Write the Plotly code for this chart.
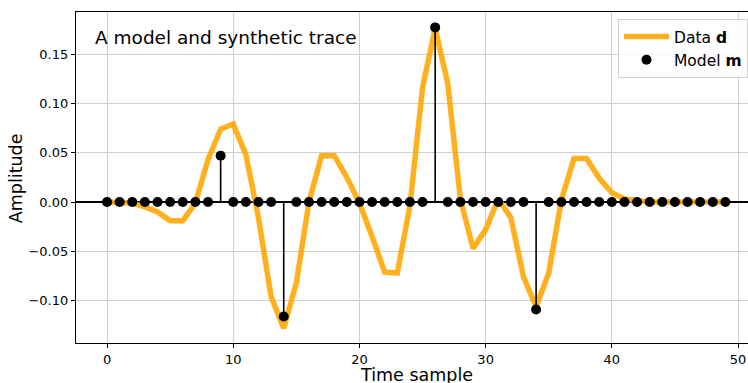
import plotly.graph_objects as go

time_samples = list(range(50))

data_d = [0.0, 0.0, -0.001, -0.005, -0.010, -0.019, -0.019, -0.001, 0.043, 0.074,
          0.079, 0.048, -0.016, -0.096, -0.128, -0.082, 0.000, 0.047, 0.047, 0.025,
          -0.001, -0.035, -0.071, -0.072, -0.004, 0.116, 0.176, 0.120, 0.003, -0.047,
          -0.028, 0.003, -0.016, -0.076, -0.106, -0.072, 0.002, 0.044, 0.044, 0.024,
          0.0095, 0.003, 0.001, 0.0, 0.0, 0.0, 0.0, 0.0, 0.0, 0.0]

model_m = [0.0] * 50
model_m[9] = 0.047
model_m[14] = -0.116
model_m[26] = 0.177
model_m[34] = -0.109

x_ticks = [0, 10, 20, 30, 40, 50]
y_ticks = [-0.10, -0.05, 0.00, 0.05, 0.10, 0.15]

# stems built from model values
stem_x, stem_y = [], []
for t, v in zip(time_samples, model_m):
    if v != 0:
        stem_x += [t, t, None]
        stem_y += [0, v, None]

font = "DejaVu Sans, Verdana, sans-serif"

fig = go.Figure()
fig.add_trace(go.Scatter(x=time_samples, y=data_d, mode="lines",
                         line=dict(color="rgba(255,165,0,0.88)", width=5.5),
                         name="Data <b>d</b>"))
fig.add_trace(go.Scatter(x=stem_x, y=stem_y, mode="lines",
                         line=dict(color="black", width=1.6),
                         showlegend=False, hoverinfo="skip"))
fig.add_trace(go.Scatter(x=time_samples, y=model_m, mode="markers",
                         marker=dict(color="black", size=10),
                         name="Model <b>m</b>"))

fig.add_annotation(text="A model and synthetic trace", xref="paper", yref="paper",
                   x=0.026, y=0.922, xanchor="left", yanchor="middle",
                   showarrow=False, font=dict(size=18.5, color="black", family=font))
fig.add_annotation(text="Time sample", xref="paper", yref="paper",
                   x=0.5067, y=-0.0955, xanchor="center", yanchor="middle",
                   showarrow=False, font=dict(size=17.5, color="black", family=font))
fig.add_annotation(text="Amplitude", xref="paper", yref="paper", textangle=-90,
                   x=-0.0882, y=0.497, xanchor="center", yanchor="middle",
                   showarrow=False, font=dict(size=17.5, color="black", family=font))

fig.update_layout(
    width=748, height=383,
    margin=dict(l=76, r=0, t=12, b=40),
    paper_bgcolor="white", plot_bgcolor="white",
    font=dict(family=font, color="black"),
    showlegend=True,
    legend=dict(x=1.0, y=0.979, xanchor="right", yanchor="top",
                bgcolor="rgba(255,255,255,0.85)", bordercolor="#d0d0d0", borderwidth=1,
                font=dict(size=15.5, family=font), itemwidth=45,
                tracegroupgap=0),
    xaxis=dict(range=[-2.46, 50.79], tickvals=x_ticks, ticktext=[str(v) for v in x_ticks],
               showgrid=True, gridcolor="#cfcfcf", gridwidth=1,
               showline=True, linecolor="black", linewidth=1.2, mirror=True,
               ticks="outside", ticklen=4, tickcolor="black",
               tickfont=dict(size=13), zeroline=False, automargin=False),
    yaxis=dict(range=[-0.1429, 0.1926], tickvals=y_ticks, tickformat=".2f",
               showgrid=True, gridcolor="#cfcfcf", gridwidth=1,
               showline=True, linecolor="black", linewidth=1.2,
               ticks="outside", ticklen=4, tickcolor="black",
               tickfont=dict(size=13), automargin=False,
               zeroline=True, zerolinecolor="black", zerolinewidth=1.5),
)

fig.write_html("out.html")
